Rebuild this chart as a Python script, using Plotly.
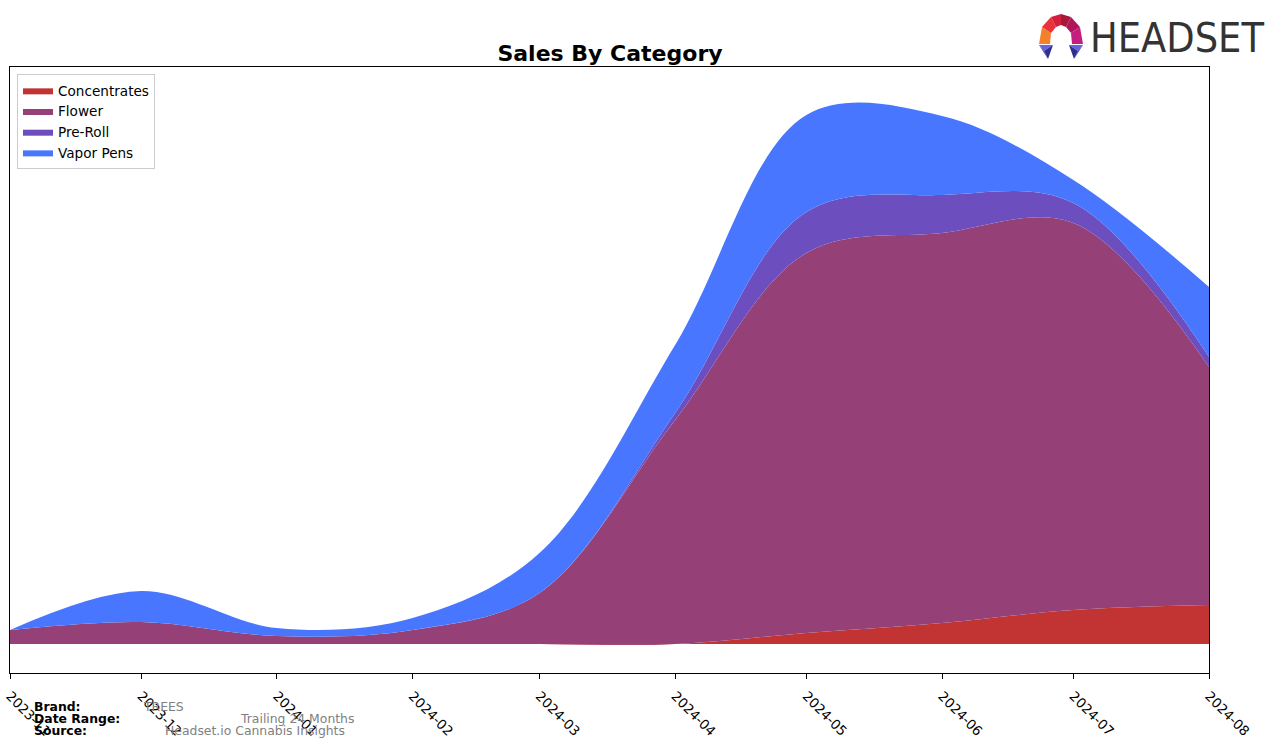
import plotly.graph_objects as go

# ---------------- data ----------------
months = ["2023-11-01", "2023-12-01", "2024-01-01", "2024-02-01", "2024-03-01",
          "2024-04-01", "2024-05-01", "2024-06-01", "2024-07-01", "2024-08-01"]
tick_labels = ["2023-11", "2023-12", "2024-01", "2024-02", "2024-03",
               "2024-04", "2024-05", "2024-06", "2024-07", "2024-08"]
concentrates = [0, 0, 0, 0, 0, 0, 1100, 2100, 3400, 3900]
flower = [1400, 2200, 800, 1400, 5100, 22400, 38000, 39000, 38700, 23800]
pre_roll = [0, 0, 0, 0, 0, 700, 4100, 3800, 2000, 1000]
vapor_pens = [0, 3100, 800, 1200, 4000, 6800, 9700, 7900, 2300, 7000]

series = [
    ("Concentrates", concentrates, "#C23434"),
    ("Flower", flower, "#954178"),
    ("Pre-Roll", pre_roll, "#6D4EBF"),
    ("Vapor Pens", vapor_pens, "#4876FE"),
]

W, H = 1276, 746
L, R, T, B = 10, 1209, 67, 673


def px(x):
    return (x - L) / (R - L)


def py(y):
    return (B - y) / (B - T)


fig = go.Figure()
for name, vals, col in series:
    fig.add_trace(go.Scatter(
        x=months, y=vals, name=name, mode="lines",
        stackgroup="one", line=dict(width=0, shape="spline", smoothing=1.0, color=col),
        fillcolor=col,
    ))

shapes = []


def poly(pts, color):
    d = "M " + " L ".join(f"{px(x):.5f},{py(y):.5f}" for x, y in pts) + " Z"
    shapes.append(dict(type="path", xref="paper", yref="paper", path=d,
                       fillcolor=color, line=dict(width=0), layer="above"))


# Headset logo (decorative)
poly([(1039, 44), (1042, 27), (1051, 33), (1050, 44)], "#F4812A")
poly([(1042, 27), (1051, 17), (1056, 27), (1051, 33)], "#E8333A")
poly([(1051, 17), (1061, 14), (1061, 25), (1056, 27)], "#D41F3C")
poly([(1061, 14), (1071, 17), (1066, 27), (1061, 25)], "#A6173A")
poly([(1071, 17), (1080, 27), (1071, 33), (1066, 27)], "#B0175A")
poly([(1080, 27), (1083, 44), (1072, 44), (1071, 33)], "#C41E7F")
poly([(1039, 45), (1053, 45), (1044, 51)], "#6A62E0")
poly([(1044, 51), (1053, 45), (1048, 59)], "#2F2F8F")
poly([(1039, 45), (1044, 51), (1048, 59)], "#3A3AA0")
poly([(1083, 45), (1069, 45), (1078, 51)], "#6A62E0")
poly([(1078, 51), (1069, 45), (1074, 59)], "#2F2F8F")
poly([(1083, 45), (1078, 51), (1074, 59)], "#3A3AA0")

annotations = [
    dict(text="HEADSET", x=px(1088), y=py(38), xref="paper", yref="paper",
         xanchor="left", yanchor="middle", showarrow=False,
         font=dict(family="Liberation Sans Narrow, DejaVu Sans Condensed, Liberation Sans, sans-serif",
                   size=41, color="#333333")),
]
foot = [
    ("Brand:", 32, 706, True, "#000000"),
    ("TREES", 141, 706, False, "#808080"),
    ("Date Range:", 32, 718, True, "#000000"),
    ("Trailing 24 Months", 238, 718, False, "#808080"),
    ("Source:", 32, 730, True, "#000000"),
    ("Headset.io Cannabis Insights", 163, 730, False, "#808080"),
]
for txt, x, y, bold, col in foot:
    annotations.append(dict(
        text=f"<b>{txt}</b>" if bold else txt, x=px(x), y=py(y),
        xref="paper", yref="paper", xanchor="left", yanchor="middle",
        showarrow=False, font=dict(family="DejaVu Sans", size=12.4, color=col)))

fig.update_layout(
    width=W, height=H,
    margin=dict(l=L, r=W - R, t=T, b=H - B, pad=0, autoexpand=False),
    paper_bgcolor="white", plot_bgcolor="white",
    font=dict(family="DejaVu Sans", size=13, color="black"),
    title=dict(text="<b>Sales By Category</b>", x=px(610), xref="paper",
               y=1 - 53 / H, yref="container", xanchor="center", yanchor="middle",
               font=dict(family="DejaVu Sans", size=22, color="black")),
    showlegend=True,
    legend=dict(x=px(17), y=py(74), xanchor="left", yanchor="top",
                bgcolor="rgba(255,255,255,0.8)", bordercolor="#CCCCCC", borderwidth=1,
                font=dict(family="DejaVu Sans", size=13.6), traceorder="normal",
                tracegroupgap=0, itemsizing="constant"),
    xaxis=dict(type="date", range=[months[0], months[-1]], automargin=False,
               tickmode="array", tickvals=months, ticktext=tick_labels,
               tickangle=45, ticks="outside", ticklen=5, tickcolor="black",
               ticklabelstandoff=4,
               showline=True, linecolor="black", linewidth=1, mirror=True,
               showgrid=False, zeroline=False,
               tickfont=dict(family="DejaVu Sans", size=13.4, color="black")),
    yaxis=dict(range=[-2900, 57700], showticklabels=False, ticks="", automargin=False,
               showline=True, linecolor="black", linewidth=1, mirror=True,
               showgrid=False, zeroline=False),
    shapes=shapes, annotations=annotations,
)

fig.write_html("out.html")
